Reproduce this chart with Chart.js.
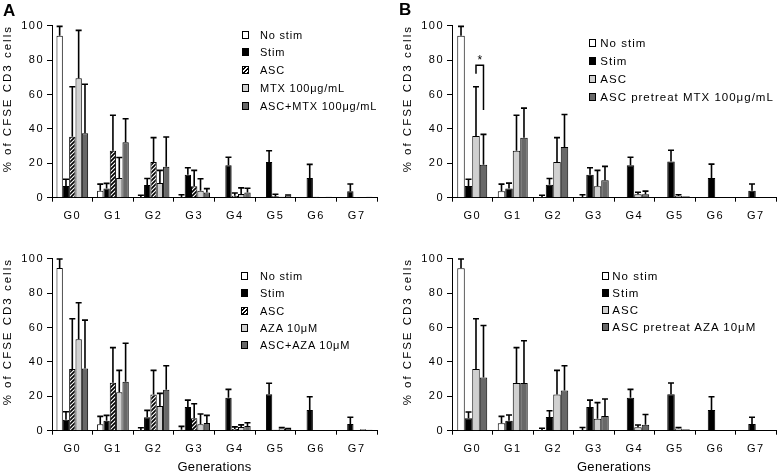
<!DOCTYPE html>
<html><head><meta charset="utf-8">
<script src="https://cdn.jsdelivr.net/npm/chart.js@4"></script>
<style>
html,body{margin:0;padding:0;background:#fff;}
#wrap{position:relative;width:777px;height:474px;overflow:hidden;font-family:"Liberation Sans",Arial,sans-serif;color:#000;}
canvas{position:absolute;}
.lg{position:absolute;color:#000;}
.lg .row{position:absolute;left:0;white-space:nowrap;height:14px;line-height:14px;}
.lg .box{position:absolute;left:0;top:3px;width:7px;height:8px;border:1px solid #000;box-sizing:border-box;}
.lg .txt{position:absolute;top:0;}
.plabel{position:absolute;font-weight:bold;font-size:17px;line-height:17px;}
</style></head>
<body>
<div id="wrap">
  <canvas id="cA" width="388" height="230" style="left:0;top:0"></canvas>
  <canvas id="cB" width="389" height="230" style="left:388px;top:0"></canvas>
  <canvas id="cC" width="388" height="244" style="left:0;top:230px"></canvas>
  <canvas id="cD" width="389" height="244" style="left:388px;top:230px"></canvas>
  <div class="plabel" style="left:3px;top:2px">A</div>
  <div class="plabel" style="left:399px;top:1px">B</div>
</div>
<script>
// ---------- data ----------
const categories = ['G0','G1','G2','G3','G4','G5','G6','G7'];
const yTicks = [0, 20, 40, 60, 80, 100];
const yTitle = '% of CFSE CD3 cells';
const xTitle = 'Generations';

// Panel A (MTX)
const labelsA = ['No stim','Stim','ASC','MTX 100μg/mL','ASC+MTX 100μg/mL'];
const aNoStim    = [94.2, 4.1, 0.4, 0.4, 0.3, 0.3, 0.3, 0.3];
const aNoStimErr = [5.4, 3.8, 1.0, 1.3, 0, 0, 0, 0];
const aStim      = [6.8, 5.4, 7.4, 13.4, 18.8, 20.8, 11.5, 3.8];
const aStimErr   = [3.9, 2.9, 3.8, 4.0, 4.7, 6.5, 7.9, 4.2];
const aAsc       = [35.5, 27.3, 20.7, 6.6, 1.2, 1.0, 0.5, 0.4];
const aAscErr    = [29.0, 20.6, 14.2, 9.3, 1.5, 1.0, 0, 0];
const aMtx       = [69.4, 11.4, 8.5, 4.0, 2.2, 0.5, 0.3, 0.3];
const aMtxErr    = [27.9, 12.0, 7.4, 7.0, 3.5, 0, 0, 0];
const aAscMtx    = [37.4, 32.2, 18.0, 3.0, 3.0, 1.3, 0.5, 0.5];
const aAscMtxErr = [28.6, 13.7, 17.3, 2.3, 2.5, 0.3, 0, 0];

// Panel B (pretreat MTX)
const labelsB = ['No stim','Stim','ASC','ASC pretreat MTX 100μg/mL'];
const bNoStim    = [94.2, 3.7, 0.4, 0.4, 0.3, 0.3, 0.3, 0.3];
const bNoStimErr = [5.4, 4.2, 1.0, 1.3, 0, 0, 0, 0];
const bStim      = [6.8, 5.4, 7.6, 13.4, 18.8, 21.0, 11.5, 4.0];
const bStimErr   = [3.9, 3.1, 3.6, 4.0, 4.7, 6.6, 8.0, 4.0];
const bAsc       = [35.9, 27.3, 20.7, 6.6, 2.0, 1.0, 0.3, 0.3];
const bAscErr    = [28.6, 20.6, 14.2, 9.3, 1.2, 0.7, 0, 0];
const bPre       = [19.2, 34.9, 29.5, 10.1, 2.0, 0.8, 0.3, 0.3];
const bPreErr    = [17.6, 17.2, 18.9, 8.1, 1.8, 0, 0, 0];
// significance bracket in panel B (category index, series indices, y values)
const sigCategory = 0;
const sigSeries = [2, 3];
const sigLevels = [72, 77, 51]; // left end, top, right end
const sigMark = '*';

// Panel C (AZA)
const labelsC = ['No stim','Stim','ASC','AZA 10μM','ASC+AZA 10μM'];
const cNoStim    = [94.6, 3.7, 0.4, 0.5, 0.3, 0.3, 0.3, 0.3];
const cNoStimErr = [5.2, 4.6, 1.3, 2.0, 0, 0, 0, 0];
const cStim      = [6.4, 5.8, 7.8, 13.8, 19.1, 21.2, 12.0, 3.9];
const cStimErr   = [4.6, 3.1, 4.0, 4.0, 4.9, 6.4, 7.7, 3.9];
const cAsc       = [35.9, 27.9, 21.1, 7.2, 1.0, 0.5, 0.3, 0.3];
const cAscErr    = [29.2, 20.4, 14.0, 8.5, 1.2, 0, 0, 0];
const cAza       = [53.1, 22.3, 14.3, 3.7, 2.2, 1.3, 0.3, 0.9];
const cAzaErr    = [21.3, 12.8, 7.4, 6.0, 1.2, 0.5, 0, 0];
const cAscAza    = [36.2, 28.5, 23.8, 4.5, 2.7, 1.0, 0.3, 0.6];
const cAscAzaErr = [28.1, 22.3, 14.0, 4.4, 1.9, 0.3, 0, 0];

// Panel D (pretreat AZA)
const labelsD = ['No stim','Stim','ASC','ASC pretreat AZA 10μM'];
const dNoStim    = [94.4, 4.3, 0.4, 0.4, 0.3, 0.3, 0.3, 0.3];
const dNoStimErr = [5.4, 4.0, 1.0, 1.5, 0, 0, 0, 0];
const dStim      = [7.2, 5.8, 7.9, 13.8, 19.1, 21.2, 12.0, 3.9];
const dStimErr   = [3.7, 3.3, 3.7, 4.0, 4.9, 6.5, 7.7, 3.9];
const dAsc       = [35.9, 27.7, 21.1, 7.0, 2.0, 1.3, 0.3, 0.3];
const dAscErr    = [29.2, 20.6, 14.0, 9.3, 1.3, 0.6, 0, 0];
const dPre       = [31.0, 27.7, 23.3, 8.5, 3.5, 0.8, 0.3, 0.3];
const dPreErr    = [30.2, 24.6, 14.5, 9.9, 5.9, 0, 0, 0];

// ---------- styles ----------
const colWhite = '#ffffff', colBlack = '#000000', colLight = '#d0d0d0', colDark = '#686868';
const FONT = '"Liberation Sans", Arial, sans-serif';
Chart.defaults.font.family = FONT;
Chart.defaults.color = '#000';

function hatchPattern(){
  const c = document.createElement('canvas'); c.width = 4; c.height = 4;
  const g = c.getContext('2d');
  g.fillStyle = '#fff'; g.fillRect(0,0,4,4);
  g.strokeStyle = '#000'; g.lineWidth = 1.7;
  g.beginPath();
  g.moveTo(-1,5); g.lineTo(5,-1);
  g.moveTo(-1,1); g.lineTo(1,-1);
  g.moveTo(3,5); g.lineTo(5,3);
  g.stroke();
  return g.createPattern(c, 'repeat');
}
const HATCH = hatchPattern();
const HATCH_CSS = 'repeating-linear-gradient(-45deg,#000 0 1.4px,#fff 1.4px 2.8px)';

// ---------- plugins ----------
const textPlugin = {
  id: 'textStyle',
  beforeDraw(chart){
    const wrap = (s, spacing, dy) => {
      if (!s || s._wrappedTitle) return;
      const orig = s.drawTitle;
      s.drawTitle = function(){
        const ctx = this.ctx; ctx.save();
        ctx.letterSpacing = spacing; ctx.translate(0, dy);
        orig.call(this); ctx.restore();
      };
      s._wrappedTitle = true;
    };
    wrap(chart.scales.y, '2px', -13);
    wrap(chart.scales.x, '0.3px', 0);
    chart.ctx.letterSpacing = '1.5px';
  }
};

const errorPlugin = {
  id: 'errorBars',
  afterDatasetsDraw(chart){
    const ctx = chart.ctx, ys = chart.scales.y;
    ctx.save();
    ctx.strokeStyle = '#000'; ctx.lineWidth = 1.6;
    chart.data.datasets.forEach((ds, i) => {
      if (!ds.errors) return;
      const meta = chart.getDatasetMeta(i);
      meta.data.forEach((bar, j) => {
        const e = ds.errors[j];
        if (!e) return;
        const top = ys.getPixelForValue(ds.data[j] + e);
        const hw = Math.min(3, bar.width / 2);
        ctx.beginPath();
        ctx.moveTo(bar.x, bar.y); ctx.lineTo(bar.x, top);
        ctx.moveTo(bar.x - hw, top); ctx.lineTo(bar.x + hw, top);
        ctx.stroke();
      });
    });
    ctx.restore();
  }
};

const bracketPlugin = {
  id: 'sigBracket',
  afterDatasetsDraw(chart, args, opts){
    if (!opts || !opts.show) return;
    const ctx = chart.ctx, ys = chart.scales.y;
    const b1 = chart.getDatasetMeta(opts.series[0]).data[opts.category];
    const b2 = chart.getDatasetMeta(opts.series[1]).data[opts.category];
    const yL = ys.getPixelForValue(opts.levels[0]);
    const yT = ys.getPixelForValue(opts.levels[1]);
    const yR = ys.getPixelForValue(opts.levels[2]);
    ctx.save();
    ctx.strokeStyle = '#000'; ctx.lineWidth = 1.5;
    ctx.beginPath();
    ctx.moveTo(b1.x, yL); ctx.lineTo(b1.x, yT); ctx.lineTo(b2.x, yT); ctx.lineTo(b2.x, yR);
    ctx.stroke();
    ctx.fillStyle = '#000'; ctx.letterSpacing = '0px';
    ctx.font = '12px ' + FONT;
    ctx.textAlign = 'center'; ctx.textBaseline = 'alphabetic';
    ctx.fillText(opts.mark, (b1.x + b2.x) / 2, yT - 1);
    ctx.restore();
  }
};

// ---------- builders ----------
function ds(label, data, errors, fill){
  return { label, data, errors, backgroundColor: fill, borderColor: '#000', borderWidth: 1 };
}

function makeChart(id, datasets, o){
  return new Chart(document.getElementById(id), {
    type: 'bar',
    data: { labels: categories, datasets },
    options: {
      responsive: false, animation: false, devicePixelRatio: 1,
      layout: { padding: { left: o.pl, top: o.pt, right: o.pr, bottom: 0 } },
      datasets: { bar: { categoryPercentage: o.cp, barPercentage: 1.0 } },
      plugins: {
        legend: { display: false }, tooltip: { enabled: false },
        sigBracket: o.bracket || { show: false }
      },
      scales: {
        x: {
          grid: { display: true, drawOnChartArea: false, drawTicks: true, tickLength: 4, color: '#000', offset: true },
          border: { display: true, color: '#000', width: 1 },
          ticks: { color: '#000', font: { size: 11 }, padding: 8, maxRotation: 0, autoSkip: false },
          title: { display: !!o.xTitle, text: xTitle, color: '#000', font: { size: 13, lineHeight: 1 }, padding: { top: 0, bottom: 0 } },
          afterFit(s){ s.height = o.xh; }
        },
        y: {
          min: 0, max: 100,
          afterBuildTicks(s){ s.ticks = yTicks.map(v => ({ value: v })); },
          ticks: { color: '#000', font: { size: 11 }, padding: 3 },
          grid: { display: true, drawOnChartArea: false, drawTicks: true, tickLength: 5, color: '#000' },
          border: { display: true, color: '#000', width: 1 },
          title: { display: true, text: yTitle, color: '#000', font: { size: 11.5 }, padding: { top: 1, bottom: 0 } },
          afterFit(s){ s.width = 52; }
        }
      }
    },
    plugins: [textPlugin, errorPlugin, bracketPlugin]
  });
}

function makeLegend(labels, fills, pos){
  const wrap = document.getElementById('wrap');
  const lg = document.createElement('div');
  lg.className = 'lg';
  lg.style.left = pos.x + 'px'; lg.style.top = '0px';
  lg.style.fontSize = pos.fs + 'px'; lg.style.letterSpacing = pos.ls + 'px';
  labels.forEach((t, i) => {
    const row = document.createElement('div');
    row.className = 'row';
    row.style.top = (pos.y0 + i * pos.dy - 7) + 'px';
    const box = document.createElement('div');
    box.className = 'box';
    box.style.background = fills[i];
    const txt = document.createElement('span');
    txt.className = 'txt'; txt.style.left = pos.tx + 'px';
    txt.textContent = t;
    row.appendChild(box); row.appendChild(txt);
    lg.appendChild(row);
  });
  wrap.appendChild(lg);
}

// Panel A
makeChart('cA', [
  ds(labelsA[0], aNoStim, aNoStimErr, colWhite),
  ds(labelsA[1], aStim, aStimErr, colBlack),
  ds(labelsA[2], aAsc, aAscErr, HATCH),
  ds(labelsA[3], aMtx, aMtxErr, colLight),
  ds(labelsA[4], aAscMtx, aAscMtxErr, colDark)
], { pl: 0, pt: 25.7, pr: 11, xh: 32.3, cp: 0.78, xTitle: false });

// Panel B
makeChart('cB', [
  ds(labelsB[0], bNoStim, bNoStimErr, colWhite),
  ds(labelsB[1], bStim, bStimErr, colBlack),
  ds(labelsB[2], bAsc, bAscErr, colLight),
  ds(labelsB[3], bPre, bPreErr, colDark)
], { pl: 12, pt: 25.7, pr: 1, xh: 32.3, cp: 0.74, xTitle: false,
     bracket: { show: true, category: sigCategory, series: sigSeries, levels: sigLevels, mark: sigMark } });

// Panel C
makeChart('cC', [
  ds(labelsC[0], cNoStim, cNoStimErr, colWhite),
  ds(labelsC[1], cStim, cStimErr, colBlack),
  ds(labelsC[2], cAsc, cAscErr, HATCH),
  ds(labelsC[3], cAza, cAzaErr, colLight),
  ds(labelsC[4], cAscAza, cAscAzaErr, colDark)
], { pl: 0, pt: 28.7, pr: 11, xh: 43.3, cp: 0.78, xTitle: true });

// Panel D
makeChart('cD', [
  ds(labelsD[0], dNoStim, dNoStimErr, colWhite),
  ds(labelsD[1], dStim, dStimErr, colBlack),
  ds(labelsD[2], dAsc, dAscErr, colLight),
  ds(labelsD[3], dPre, dPreErr, colDark)
], { pl: 12, pt: 28.7, pr: 1, xh: 43.3, cp: 0.74, xTitle: true });

// Legends
makeLegend(labelsA, [colWhite, colBlack, HATCH_CSS, colLight, colDark], { x: 241.7, tx: 18.3, y0: 34.5, dy: 17.75, fs: 11, ls: 0.8 });
makeLegend(labelsB, [colWhite, colBlack, colLight, colDark], { x: 589.3, tx: 11, y0: 43.3, dy: 17.9, fs: 11.5, ls: 1.0 });
makeLegend(labelsC, [colWhite, colBlack, HATCH_CSS, colLight, colDark], { x: 240.7, tx: 19.3, y0: 276, dy: 17.25, fs: 11, ls: 0.8 });
makeLegend(labelsD, [colWhite, colBlack, colLight, colDark], { x: 602.3, tx: 10, y0: 276, dy: 17.1, fs: 11.5, ls: 1.0 });
</script>
</body></html>
